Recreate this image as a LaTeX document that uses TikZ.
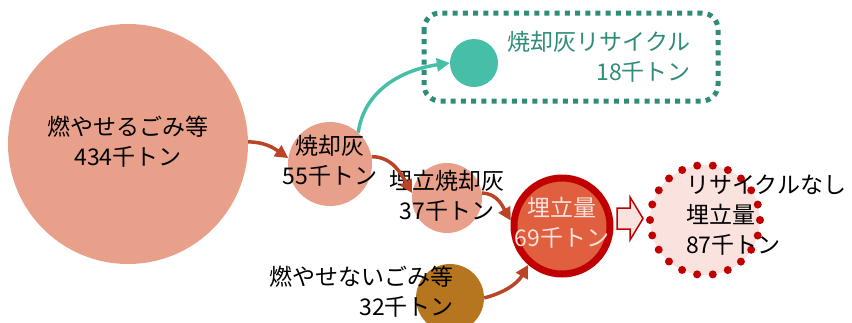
\documentclass[tikz,border=0pt]{standalone}
\usepackage{fontspec}
\setmainfont{Noto Sans CJK JP}
\usetikzlibrary{arrows.meta}
\definecolor{salmon}{HTML}{E9A08B}
\definecolor{mint}{HTML}{47BFA8}
\definecolor{teal}{HTML}{2F8C78}
\definecolor{brownc}{HTML}{B5761F}
\definecolor{arrowred}{HTML}{B94426}
\definecolor{darkred}{HTML}{C00000}
\definecolor{redfill}{HTML}{DF5F3F}
\definecolor{pinkc}{HTML}{FAE3DE}
\begin{document}
\begin{tikzpicture}[x=1pt,y=-1pt,
  txt/.style={font=\fontsize{23}{30}\selectfont, inner sep=0pt},
  bub/.style={circle, inner sep=0pt},
  flow/.style={draw=arrowred, line width=3.5pt, -{Triangle[length=13pt,width=13pt]}},
  gflow/.style={draw=mint, line width=3.5pt, -{Triangle[length=13pt,width=13pt]}}]
\useasboundingbox (0,0) rectangle (852,322);
% dotted rectangle
\draw[teal, line width=5pt, dash pattern=on 5pt off 5.2pt, rounded corners=16pt] (424,13) rectangle (718,101);
% circles
\node[bub, fill=salmon, minimum size=240pt] (big) at (128,144) {};
\node[txt, align=center] (bigt) at (128,142) {燃やせるごみ等\\434千トン};
\node[bub, fill=salmon, minimum size=84pt] (ash) at (330,164) {};
\node[txt, align=center] (asht) at (330,161) {焼却灰\\55千トン};
\node[bub, fill=salmon, minimum size=70pt] (land) at (447,198) {};
\node[txt, align=center] (landt) at (447,196) {埋立焼却灰\\37千トン};
\node[bub, fill=redfill, draw=darkred, line width=7pt, minimum size=96pt] (fill) at (562,226) {};
\node[txt, align=center, text=pinkc] (fillt) at (562,223) {埋立量\\69千トン};
\node[bub, fill=mint, minimum size=48pt] (rec) at (474,63) {};
\node[txt, align=right, text=teal, anchor=east] (rect) at (691,57) {焼却灰リサイクル\\18千トン};
\node[bub, fill=brownc, minimum size=68pt] (nonb) at (450,298) {};
\node[txt, align=right, anchor=east] (nont) at (454,292) {燃やせないごみ等\\32千トン};
\node[bub, fill=pinkc, minimum size=110pt] (nore) at (705,220) {};
\draw[darkred, line width=8pt, line cap=round, dash pattern=on 0pt off 15.7pt] (nore) circle (55pt);
\node[txt, align=left, anchor=west] (noret) at (686,215) {リサイクルなし\\埋立量\\87千トン};
% block arrow
\draw[darkred, fill=pinkc, line width=1.5pt] (617,208) -- (630,208) -- (630,197) -- (643,218.5) -- (630,240) -- (630,229) -- (617,229) -- cycle;
% flows
\draw[flow] (big.1) to[out=0,in=145] (ash.172);
\draw[flow] (ash.10) to[out=0,in=120] (land.172);
\draw[flow] (land.8) to[out=0,in=120] (fill.174);
\draw[flow] (nonb.east) to[out=15,in=240] (fill.229);
\draw[gflow] (ash.48) to[out=82,in=188] (rec.west);
\end{tikzpicture}
\end{document}
